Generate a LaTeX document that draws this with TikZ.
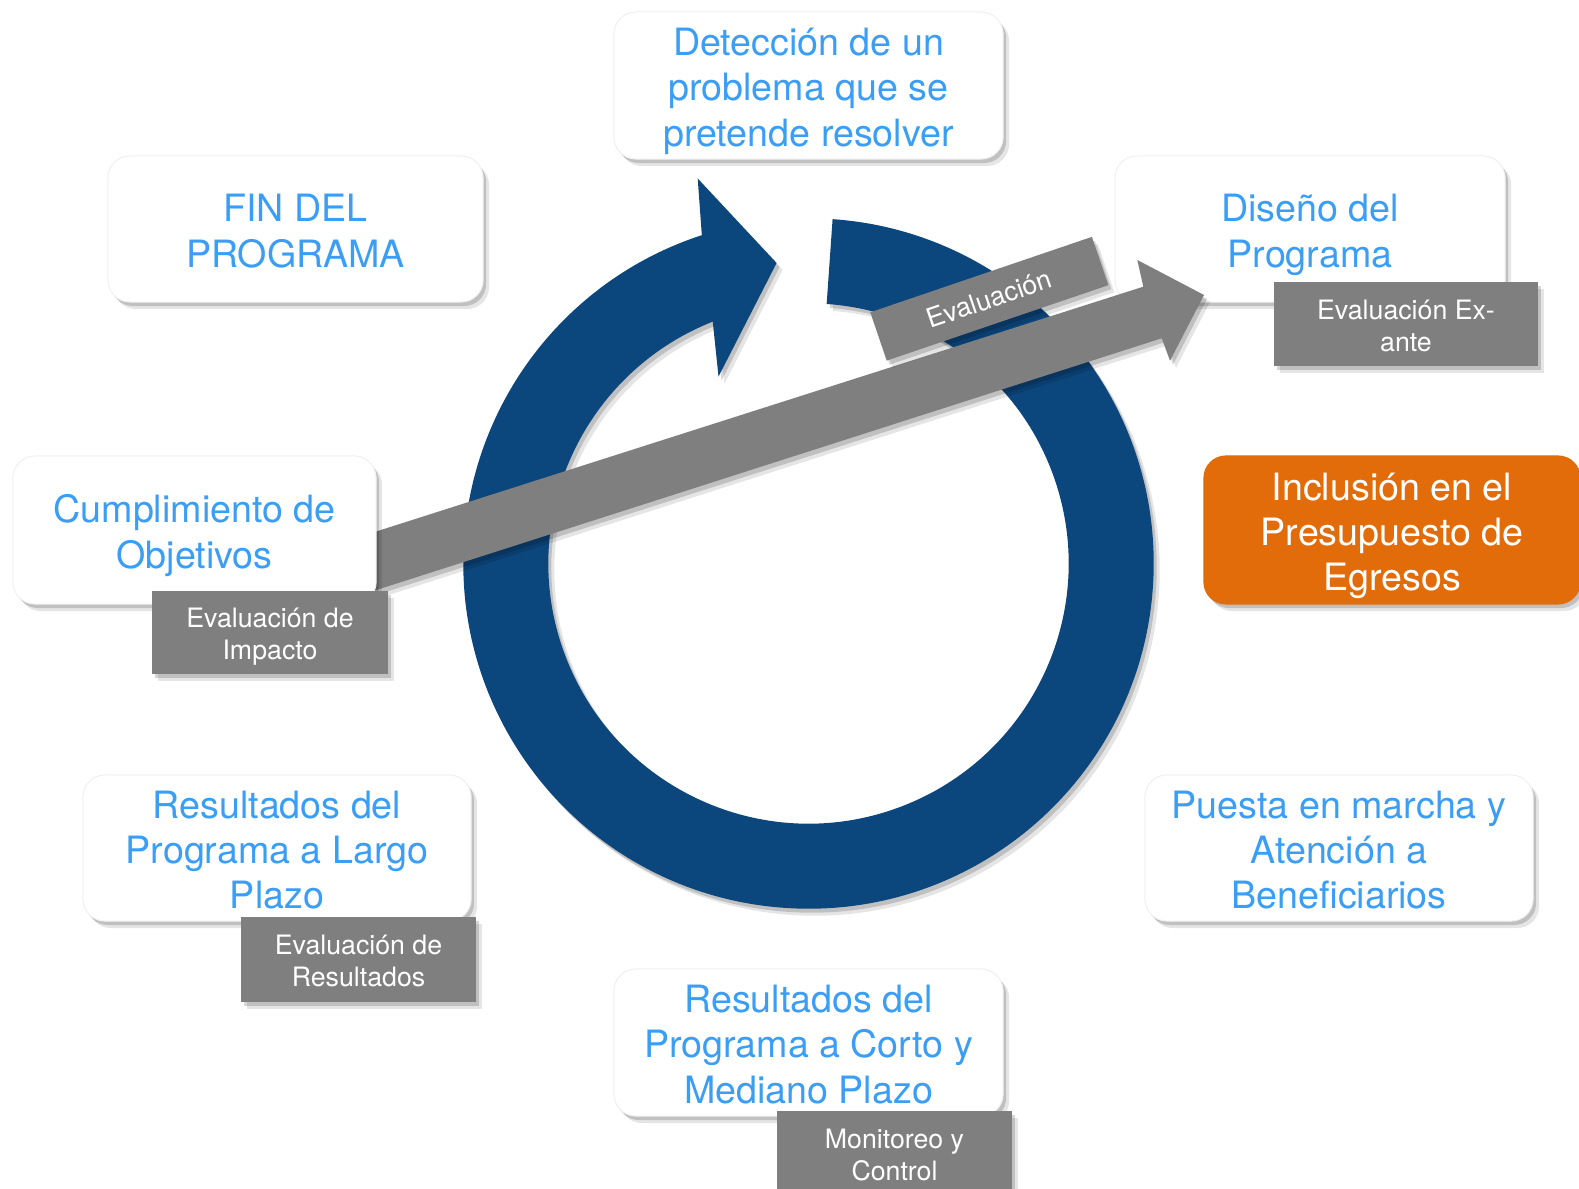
\documentclass[tikz,border=0pt]{standalone}
\usepackage{fontspec}
\setmainfont{TeX Gyre Heros}
\usetikzlibrary{shadows,calc}
\definecolor{ringblue}{RGB}{11,70,124}
\definecolor{txtblue}{RGB}{58,158,246}
\definecolor{lblgray}{RGB}{127,127,127}
\definecolor{orng}{RGB}{227,108,10}
\tikzset{
  softshadow/.style={
    drop shadow={shadow xshift=0.03cm,shadow yshift=-0.04cm,opacity=0.16,fill=black},
    drop shadow={shadow xshift=0.06cm,shadow yshift=-0.07cm,opacity=0.10,fill=black}},
  stage/.style={softshadow, fill=white, draw=black!6, line width=0.3pt,
    rounded corners=0.22cm, align=center, text=txtblue,
    font=\fontsize{10.7}{12.85}\selectfont, inner sep=0pt, text depth=3pt},
  twolines/.style={text height=24.7pt},
  threelines/.style={text height=37.5pt},
  hotstage/.style={stage, fill=orng, draw=orng, text=white},
  lbl/.style={softshadow, fill=lblgray, align=center, text=white,
    font=\fontsize{7.6}{9.1}\selectfont, inner sep=0pt},
  lbltwo/.style={text height=17.8pt, text depth=2.2pt},
  ringfill/.style={fill=ringblue, softshadow},
  bigarrow/.style={fill=lblgray, softshadow}
}
\begin{document}
\begin{tikzpicture}[x=0.01cm,y=0.01cm]
\useasboundingbox (0,0) rectangle (1579,-1189);
\coordinate (C) at (808.5,-563.5);
% ring
\coordinate (barbA) at (697.7,-178.5);
\coordinate (tipA) at (776.6,-263);
\coordinate (barbB) at (718.5,-376.6);
\fill[ringfill] ($(C)+(86:3.45cm)$) arc[start angle=86,end angle=-252,radius=3.45cm]
  -- (barbA) -- (tipA) -- (barbB)
  -- ($(C)+(111.6:2.6cm)$) arc[start angle=-248.4,end angle=86,radius=2.6cm] -- cycle;

% Diseño box (below the big arrow)
\node[stage, twolines, minimum width=3.90cm, minimum height=1.46cm] (diseno) at (1310,-229) {Diseño del\\Programa};

% big gray arrow
\coordinate (s1) at (300,-555.8);
\coordinate (j1) at (1143.3,-286.7);
\coordinate (b1) at (1137.3,-260);
\coordinate (tipB) at (1204,-295);
\coordinate (b2) at (1170,-360.7);
\coordinate (j2) at (1161.7,-338.3);
\coordinate (s2) at (300,-614.5);
\fill[bigarrow] (s1) -- (j1) -- (b1) -- (tipB) -- (b2) -- (j2) -- (s2) -- cycle;

\node[lbl, rotate=18.8, minimum width=2.34cm, minimum height=0.51cm] (evalrot) at (989.3,-298.75) {Evaluación};

% stages
\node[stage, threelines, minimum width=3.89cm, minimum height=1.47cm] (deteccion) at (808.5,-85.5) {Detección de un\\problema que se\\pretende resolver};
\node[stage, twolines, minimum width=3.75cm, minimum height=1.46cm] (fin) at (295.5,-229) {FIN DEL\\PROGRAMA};
\node[stage, twolines, minimum width=3.63cm, minimum height=1.48cm] (cumpl) at (194.5,-530) {Cumplimiento de\\Objetivos};
\node[hotstage, threelines, minimum width=3.76cm, minimum height=1.48cm] (inclusion) at (1392,-530) {Inclusión en el\\Presupuesto de\\Egresos};
\node[stage, threelines, minimum width=3.88cm, minimum height=1.46cm] (largo) at (277,-848) {Resultados del\\Programa a Largo\\Plazo};
\node[stage, threelines, minimum width=3.88cm, minimum height=1.46cm] (puesta) at (1339,-848) {Puesta en marcha y\\Atención a\\Beneficiarios};
\node[stage, threelines, minimum width=3.89cm, minimum height=1.47cm] (corto) at (808.5,-1042.5) {Resultados del\\Programa a Corto y\\Mediano Plazo};

% labels
\node[lbl, lbltwo, minimum width=2.64cm, minimum height=0.84cm] (exante) at (1406,-324) {Evaluación Ex-\\ante};
\node[lbl, lbltwo, minimum width=2.36cm, minimum height=0.83cm] (impacto) at (270,-632.5) {Evaluación de\\Impacto};
\node[lbl, lbltwo, minimum width=2.35cm, minimum height=0.85cm] (resultados) at (358.5,-959.5) {Evaluación de\\Resultados};
\node[lbl, lbltwo, minimum width=2.35cm, minimum height=0.85cm] (monitoreo) at (894.5,-1153.5) {Monitoreo y\\Control};
\end{tikzpicture}
\end{document}
